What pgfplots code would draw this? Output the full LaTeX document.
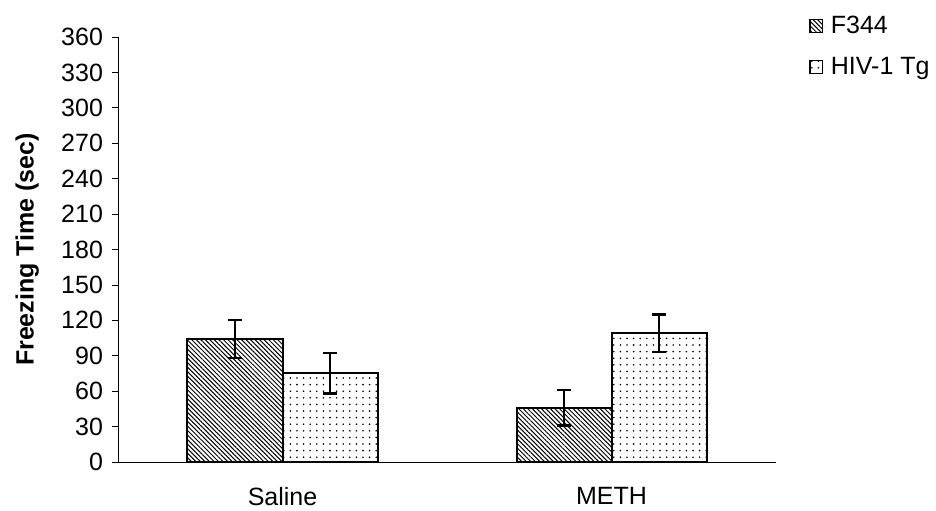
\documentclass[border=0pt]{standalone}
\usepackage{fontspec}
\setmainfont{Liberation Sans}
\usepackage{pgfplots}
\pgfplotsset{compat=1.18}
\usetikzlibrary{patterns.meta}

\pgfplotstableread{
x   val  err
0   104  16
1   46   15
}\fthree
\pgfplotstableread{
x   val  err
0   75   17
1   109  16
}\hivtg

\begin{document}
\begin{tikzpicture}
\useasboundingbox (-59pt,-24pt) rectangle (409pt,231pt);
\begin{axis}[
    scale only axis,
    width=329pt, height=212.5pt,
    xmin=-0.5, xmax=1.5,
    ymin=0, ymax=360,
    ytick={0,30,...,360},
    xtick={0,1},
    xticklabels={Saline,METH},
    major x tick style={draw=none},
    extra x ticks={-0.5,0.5,1.5},
    extra x tick labels={},
    extra x tick style={major tick length=4pt, tick style={draw=black, thin}},
    axis x line*=bottom,
    axis y line*=left,
    axis line style={black, thin},
    y tick style={black, thin},
    tick align=outside,
    major tick length=3pt,
    font=\fontsize{12.5}{15}\selectfont,
    /pgf/number format/assume math mode=true,
    yticklabel style={font=\fontsize{12.5}{15}\selectfont, xshift=-1pt},
    xticklabel style={font=\fontsize{12.5}{15}\selectfont, yshift=-6pt},
    ylabel={\textbf{Freezing Time (sec)}},
    ylabel style={font=\fontsize{12.5}{15}\selectfont,
        at={(axis description cs:-0.138,0.5)}, anchor=center},
    ybar=0pt,
    bar width=47.5pt,
    legend style={at={(rel axis cs:1.05,1.058)}, anchor=north west, draw=none,
        font=\fontsize{12.5}{15}\selectfont, row sep=7pt, inner sep=0pt,
        nodes={inner ysep=1.6pt, inner xsep=2pt}},
    legend image code/.code={
        \draw[#1, line width=0.6pt] (0pt,-3.2pt) rectangle (6.4pt,3.2pt);
        \path[draw=none] (0pt,0pt) -- (8.5pt,0pt);
    },
    legend cell align=left,
]
\addplot[draw=black, line width=1pt,
    pattern={Lines[angle=-45, distance=1.6pt, line width=0.5pt]},
    error bars/.cd, y dir=both, y explicit,
    error bar style={line width=1.1pt, black},
    error mark options={rotate=90, mark size=3.5pt, line width=1.1pt, black}]
    table[x=x, y=val, y error=err]{\fthree};
\addplot[draw=black, line width=1pt,
    pattern={Dots[distance=3.3pt, radius=0.45pt]},
    error bars/.cd, y dir=both, y explicit,
    error bar style={line width=1.1pt, black},
    error mark options={rotate=90, mark size=3.5pt, line width=1.1pt, black}]
    table[x=x, y=val, y error=err]{\hivtg};
\legend{F344, HIV-1 Tg}
\end{axis}
\end{tikzpicture}
\end{document}
